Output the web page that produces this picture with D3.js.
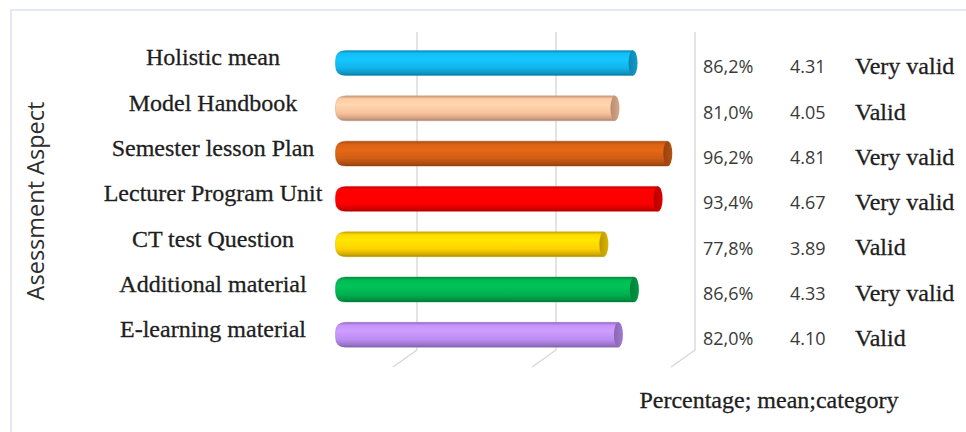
<!DOCTYPE html>
<html>
<head>
<meta charset="utf-8">
<script src="https://cdn.jsdelivr.net/npm/d3@7"></script>
<style>
  html, body { margin: 0; padding: 0; background: #fff; }
  svg { display: block; }
</style>
</head>
<body>
<svg id="chart" width="966" height="432"></svg>
<script>
// data
var categories = ["Holistic mean", "Model Handbook", "Semester lesson Plan", "Lecturer Program Unit",
  "CT test Question", "Additional material", "E-learning material"];
var percentages = [86.2, 81.0, 96.2, 93.4, 77.8, 86.6, 82.0];
var means = [4.31, 4.05, 4.81, 4.67, 3.89, 4.33, 4.10];
var verdicts = ["Very valid", "Valid", "Very valid", "Very valid", "Valid", "Very valid", "Valid"];
var barColors = ["#12b4ec", "#f9c19c", "#cf5d14", "#fb0000", "#fdd000", "#00b04f", "#bb8cf2"];
var gridValues = [20, 60, 100];

var svg = d3.select("#chart");
var defs = svg.append("defs");

var serif = "'Liberation Serif', 'Times New Roman', serif";
var sans = "'Open Sans', sans-serif";

// frame
svg.append("rect")
  .attr("x", 11).attr("y", 10)
  .attr("width", 980).attr("height", 440)
  .attr("fill", "none")
  .attr("stroke", "#dbe4f2")
  .attr("stroke-width", 1.5);

// 3d depth offset of the back wall
var depth = {dx: 24, dy: -17};
var wallTop = 32, floorFront = 367;

var x = d3.scaleLinear().domain([0, 100]).range([323.5, 671]);
var y = d3.scaleBand().domain(categories)
  .range([40.35, 357.45])
  .paddingInner(0.45).paddingOuter(0.225);

// back wall + floor gridlines
var grid = svg.append("g").attr("stroke", "#d6d6d6").attr("stroke-width", 1.3).attr("fill", "none");
grid.selectAll(".wall").data(gridValues).enter().append("line")
  .attr("x1", function(d) { return x(d) + depth.dx; })
  .attr("x2", function(d) { return x(d) + depth.dx; })
  .attr("y1", wallTop)
  .attr("y2", floorFront + depth.dy);
grid.selectAll(".floor").data(gridValues).enter().append("line")
  .attr("x1", function(d) { return x(d) + depth.dx; })
  .attr("y1", floorFront + depth.dy)
  .attr("x2", function(d) { return x(d); })
  .attr("y2", floorFront);

// gradients for the cylinders
barColors.forEach(function(c, i) {
  var base = d3.color(c);
  var g = defs.append("linearGradient").attr("id", "body" + i)
    .attr("x1", 0).attr("y1", 0).attr("x2", 0).attr("y2", 1);
  g.append("stop").attr("offset", "0%").attr("stop-color", base.darker(0.7));
  g.append("stop").attr("offset", "12%").attr("stop-color", base.brighter(0.15));
  g.append("stop").attr("offset", "35%").attr("stop-color", base.brighter(0.3));
  g.append("stop").attr("offset", "70%").attr("stop-color", base);
  g.append("stop").attr("offset", "90%").attr("stop-color", base.darker(0.5));
  g.append("stop").attr("offset", "100%").attr("stop-color", base.darker(1.1));
  var cap = defs.append("linearGradient").attr("id", "cap" + i)
    .attr("x1", 0).attr("y1", 0).attr("x2", 1).attr("y2", 0);
  cap.append("stop").attr("offset", "0%").attr("stop-color", base.darker(0.9));
  cap.append("stop").attr("offset", "100%").attr("stop-color", base.darker(0.4));
});

var bh = y.bandwidth();
var r = 10, capRx = 4.5;

var bars = svg.append("g").selectAll("g.bar")
  .data(categories).enter().append("g").attr("class", "bar");

bars.append("path")
  .attr("d", function(d, i) {
    var x0 = x(0) + depth.dx / 2, x1 = x(percentages[i]) + depth.dx / 2 - 2;
    var y0 = y(d), y1 = y(d) + bh;
    return "M" + (x0 + r) + "," + y0 +
      "L" + x1 + "," + y0 +
      "L" + x1 + "," + y1 +
      "L" + (x0 + r) + "," + y1 +
      "Q" + x0 + "," + y1 + " " + x0 + "," + (y1 - r) +
      "L" + x0 + "," + (y0 + r) +
      "Q" + x0 + "," + y0 + " " + (x0 + r) + "," + y0 + "Z";
  })
  .attr("fill", function(d, i) { return "url(#body" + i + ")"; })
  .attr("stroke", function(d, i) { return d3.color(barColors[i]).darker(0.6); })
  .attr("stroke-opacity", 0.5)
  .attr("stroke-width", 0.8);

bars.append("ellipse")
  .attr("cx", function(d, i) { return x(percentages[i]) + depth.dx / 2 - 2; })
  .attr("cy", function(d) { return y(d) + bh / 2; })
  .attr("rx", capRx)
  .attr("ry", bh / 2)
  .attr("fill", function(d, i) { return "url(#cap" + i + ")"; });

// category labels
svg.append("g").selectAll("text")
  .data(categories).enter().append("text")
  .attr("x", 213)
  .attr("y", function(d) { return y(d) + bh / 2; })
  .attr("dy", "0.1em")
  .attr("text-anchor", "middle")
  .attr("font-family", serif)
  .attr("font-size", 24)
  .attr("fill", "#1e1e1e")
  .attr("stroke", "#1e1e1e")
  .attr("stroke-width", 0.3)
  .text(function(d) { return d; });

// axis title
svg.append("text")
  .attr("transform", "translate(44,201) rotate(-90)")
  .attr("text-anchor", "middle")
  .attr("font-family", sans)
  .attr("font-size", 23.5)
  .attr("fill", "#2e2e2e")
  .text("Asessment Aspect");

// right hand value table
var fmtPct = function(v) { return v.toFixed(1).replace(".", ",") + "%"; };
var rows = svg.append("g").selectAll("g.row")
  .data(categories).enter().append("g").attr("class", "row")
  .attr("transform", function(d) { return "translate(0," + (y(d) + bh / 2 + 4) + ")"; });

rows.append("text")
  .attr("x", 703)
  .attr("dy", "0.35em")
  .attr("font-family", sans)
  .attr("font-size", 18)
  .attr("fill", "#3a3a3a")
  .text(function(d, i) { return fmtPct(percentages[i]); });

rows.append("text")
  .attr("x", 790)
  .attr("dy", "0.35em")
  .attr("font-family", sans)
  .attr("font-size", 18)
  .attr("fill", "#3a3a3a")
  .text(function(d, i) { return means[i].toFixed(2); });

rows.append("text")
  .attr("x", 855)
  .attr("dy", "0.3em")
  .attr("font-family", serif)
  .attr("font-size", 24)
  .attr("fill", "#1e1e1e")
  .attr("stroke", "#1e1e1e")
  .attr("stroke-width", 0.3)
  .text(function(d, i) { return verdicts[i]; });

svg.append("text")
  .attr("x", 769)
  .attr("y", 408)
  .attr("text-anchor", "middle")
  .attr("font-family", serif)
  .attr("font-size", 24)
  .attr("fill", "#1e1e1e")
  .attr("stroke", "#1e1e1e")
  .attr("stroke-width", 0.3)
  .text("Percentage; mean;category");
</script>
</body>
</html>
